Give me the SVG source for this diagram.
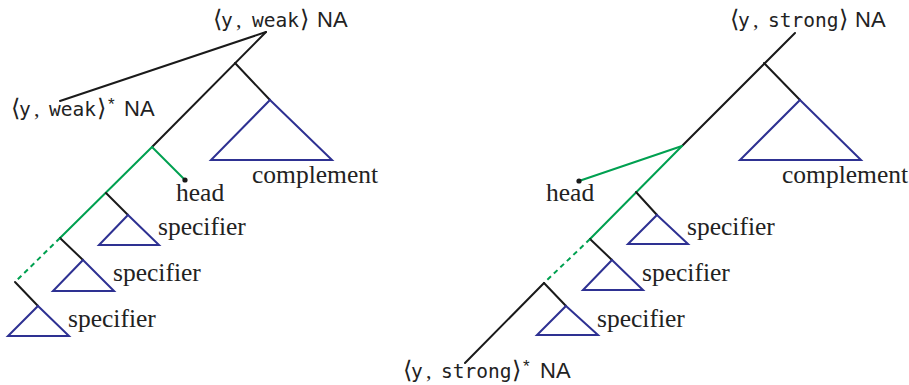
<svg xmlns="http://www.w3.org/2000/svg" width="909" height="385" viewBox="0 0 909 385">
<style>
.k{stroke:#1a1a1a;stroke-width:2;fill:none;stroke-linecap:round}
.g{stroke:#00A050;stroke-width:2;fill:none;stroke-linecap:round}
.d{stroke:#00A050;stroke-width:2;fill:none;stroke-dasharray:5 4}
.t{stroke:#2E3192;stroke-width:2;fill:none;stroke-linejoin:miter}
.lbl{font-family:"Liberation Serif",serif;font-size:25.5px;fill:#222}
.mono{font-family:"DejaVu Sans Mono",monospace;font-size:19.5px}
.sans{font-family:"Liberation Sans",sans-serif;font-size:22px}
.br{font-family:"DejaVu Serif",serif;font-size:24px}
.ser{font-family:"Liberation Serif",serif;font-size:22px}
.star{font-family:"Liberation Sans",sans-serif;font-size:17px}
</style>
<rect width="909" height="385" fill="#fff"/>

<g id="connectors">
  <!-- left tree -->
  <path class="k" d="M266,32 L60,101"/>
  <path class="k" d="M266,32 L152,147"/>
  <path class="k" d="M235,63 L270,100"/>
  <path class="g" d="M152,147 L185,180"/>
  <path class="g" d="M152,147 L60,238"/>
  <path class="k" d="M106,193 L128,215"/>
  <path class="k" d="M60,238 L83,260"/>
  <path class="d" d="M60,238 L15,282"/>
  <path class="k" d="M15,282 L38,306"/>
  <!-- right tree -->
  <path class="k" d="M795,33 L682,146"/>
  <path class="k" d="M764,63 L800,100"/>
  <path class="g" d="M682,146 L579,181"/>
  <path class="g" d="M682,146 L590,239"/>
  <path class="k" d="M636,192 L657,215"/>
  <path class="k" d="M590,239 L612,260"/>
  <path class="d" d="M590,239 L544,283"/>
  <path class="k" d="M544,283 L566,306"/>
  <path class="k" d="M544,283 L465,363"/>
</g>

<g id="top-left-label">
  <text y="27" fill="#222"><tspan class="br" x="213">⟨</tspan><tspan class="mono" x="221">y</tspan><tspan class="ser" x="236">,</tspan><tspan class="mono" x="252">weak</tspan><tspan class="br" x="300">⟩</tspan><tspan class="sans" x="317">NA</tspan></text>
</g>
<g id="left-foot-label">
  <text y="116" fill="#222"><tspan class="br" x="11">⟨</tspan><tspan class="mono" x="19">y</tspan><tspan class="ser" x="34">,</tspan><tspan class="mono" x="49">weak</tspan><tspan class="br" x="97">⟩</tspan><tspan class="star" x="108" y="110">*</tspan><tspan class="sans" x="124" y="116">NA</tspan></text>
</g>
<g id="left-complement">
  <path class="t" d="M270,100 L332,160 L211,160 Z"/>
  <text class="lbl" x="252" y="183">complement</text>
</g>
<g id="left-head">
  <circle cx="185" cy="180" r="2.6" fill="#1a1a1a"/>
  <text class="lbl" x="176" y="201">head</text>
</g>
<g id="left-spec1">
  <path class="t" d="M128,215 L159,245 L99,245 Z"/>
  <text class="lbl" x="158" y="235">specifier</text>
</g>
<g id="left-spec2">
  <path class="t" d="M83,260 L114,291 L53,291 Z"/>
  <text class="lbl" x="113" y="281">specifier</text>
</g>
<g id="left-spec3">
  <path class="t" d="M38,306 L69,336 L8,336 Z"/>
  <text class="lbl" x="68" y="327">specifier</text>
</g>

<g id="top-right-label">
  <text y="27" fill="#222"><tspan class="br" x="730">⟨</tspan><tspan class="mono" x="738">y</tspan><tspan class="ser" x="753">,</tspan><tspan class="mono" x="768">strong</tspan><tspan class="br" x="839">⟩</tspan><tspan class="sans" x="855">NA</tspan></text>
</g>
<g id="right-foot-label">
  <text y="378" fill="#222"><tspan class="br" x="403">⟨</tspan><tspan class="mono" x="411">y</tspan><tspan class="ser" x="426">,</tspan><tspan class="mono" x="441">strong</tspan><tspan class="br" x="512">⟩</tspan><tspan class="star" x="523" y="372">*</tspan><tspan class="sans" x="540" y="378">NA</tspan></text>
</g>
<g id="right-complement">
  <path class="t" d="M800,100 L861,160 L740,160 Z"/>
  <text class="lbl" x="782" y="183">complement</text>
</g>
<g id="right-head">
  <circle cx="579" cy="181" r="2.6" fill="#1a1a1a"/>
  <text class="lbl" x="546" y="201">head</text>
</g>
<g id="right-spec1">
  <path class="t" d="M657,215 L688,244 L628,244 Z"/>
  <text class="lbl" x="687" y="235">specifier</text>
</g>
<g id="right-spec2">
  <path class="t" d="M612,260 L643,290 L583,290 Z"/>
  <text class="lbl" x="642" y="281">specifier</text>
</g>
<g id="right-spec3">
  <path class="t" d="M566,306 L598,335 L537,335 Z"/>
  <text class="lbl" x="597" y="327">specifier</text>
</g>
</svg>
